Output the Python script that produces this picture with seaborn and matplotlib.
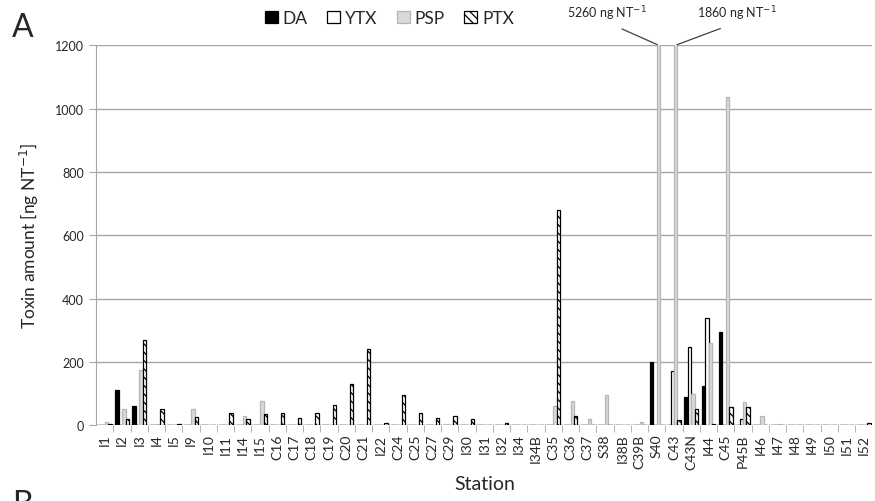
import pandas as pd
import seaborn as sns
import matplotlib.pyplot as plt
from matplotlib.ticker import FixedLocator

# --- data ---
stations = ['I1', 'I2', 'I3', 'I4', 'I5', 'I9', 'I10', 'I11', 'I14', 'I15',
            'C16', 'C17', 'C18', 'C19', 'C20', 'C21', 'I22', 'C24', 'C25', 'C27',
            'C29', 'I30', 'I31', 'I32', 'I34', 'I34B', 'C35', 'C36', 'C37', 'S38',
            'I38B', 'C39B', 'S40', 'C43', 'C43N', 'I44', 'C45', 'P45B', 'I46', 'I47',
            'I48', 'I49', 'I50', 'I51', 'I52']

da = [0, 110, 60, 0, 0, 0, 0, 0, 0, 0,
      0, 0, 0, 0, 0, 0, 0, 0, 0, 0,
      0, 0, 0, 0, 0, 0, 0, 0, 0, 0,
      0, 0, 200, 0, 90, 125, 295, 0, 0, 0,
      0, 0, 0, 0, 0]
ytx = [0, 0, 0, 0, 0, 0, 0, 0, 0, 0,
       0, 0, 0, 0, 0, 0, 0, 0, 0, 0,
       0, 0, 0, 0, 0, 0, 0, 0, 0, 0,
       0, 0, 0, 170, 248, 340, 0, 20, 0, 0,
       0, 0, 0, 0, 0]
psp = [10, 50, 175, 5, 0, 52, 0, 0, 28, 75,
       0, 0, 0, 0, 0, 0, 0, 0, 0, 0,
       0, 0, 0, 0, 0, 0, 60, 75, 18, 95,
       0, 10, 5260, 1860, 100, 260, 1035, 72, 30, 5,
       0, 0, 0, 0, 0]
ptx = [5, 20, 268, 52, 5, 25, 0, 37, 20, 35,
       37, 22, 37, 65, 130, 240, 8, 95, 40, 22,
       30, 18, 0, 8, 0, 0, 680, 28, 0, 0,
       0, 0, 0, 15, 50, 5, 58, 58, 0, 0,
       0, 0, 0, 0, 8]

toxins = ['DA', 'YTX', 'PSP', 'PTX']
df = pd.DataFrame({'Station': stations, 'DA': da, 'YTX': ytx, 'PSP': psp, 'PTX': ptx})
long = df.melt(id_vars='Station', var_name='Toxin', value_name='Amount')

# --- styling ---
sns.set_style("white")
plt.rcParams['font.family'] = ['Lato', 'DejaVu Sans']
plt.rcParams['hatch.linewidth'] = 0.9

fig = plt.figure(figsize=(8.75, 5.02), dpi=100)
ax = fig.add_axes([0.11, 0.151, 0.887, 0.757])

sns.barplot(data=long, x='Station', y='Amount', hue='Toxin', hue_order=toxins,
            palette=['black', 'white', '#d9d9d9', 'white'], width=0.8,
            saturation=1, ax=ax, legend=False)

face = ['black', 'white', '#d9d9d9', 'white']
edge = ['black', 'black', '#b5b5b5', 'black']
hatch = [None, None, None, '\\\\\\\\']
for i, cont in enumerate(ax.containers):
    for p in cont:
        p.set_facecolor(face[i])
        p.set_edgecolor(edge[i])
        p.set_linewidth(0.9)
        if hatch[i]:
            p.set_hatch(hatch[i])
    cont.set_label(toxins[i])

ax.set_ylim(0, 1200)
ax.set_xlim(-0.5, len(stations) - 0.5)
ax.set_yticks(range(0, 1201, 200))
ax.yaxis.grid(True, color='#a6a6a6', linewidth=1)
ax.set_axisbelow(True)
for s in ['top', 'right', 'bottom']:
    ax.spines[s].set_visible(False)
ax.spines['left'].set_color('#a6a6a6')
ax.axhline(0, color='#a6a6a6', linewidth=1, zorder=0.5)

ax.tick_params(axis='y', labelsize=9, length=5, color='#a6a6a6', pad=4, left=True)
ax.tick_params(axis='x', which='major', labelsize=10, length=0, rotation=90, pad=6)
ax.xaxis.set_minor_locator(FixedLocator([i + 0.5 for i in range(len(stations) - 1)]))
ax.tick_params(axis='x', which='minor', length=5, color='#a6a6a6', bottom=True)

ax.set_xlabel('Station', fontsize=14, labelpad=4)
ax.set_ylabel('Toxin amount [ng NT$^{-1}$]', fontsize=12.5, labelpad=10)

# legend across the top
leg = ax.legend(handles=ax.containers, labels=toxins, ncol=4, frameon=False,
                loc='center', bbox_to_anchor=(0.445, 0.962), bbox_transform=fig.transFigure,
                fontsize=12.5, handlelength=0.75, handleheight=0.75, handletextpad=0.3,
                columnspacing=1.1)

# labels for the two clipped bars
psp_bars = ax.containers[2]
for name, tx in [('S40', 607), ('C43', 737)]:
    k = stations.index(name)
    bar = psp_bars[k]
    val = psp[k]
    ax.annotate(f'{val} ng NT$^{{-1}}$', xy=(bar.get_x() + bar.get_width() / 2, 1200),
                xycoords='data', xytext=(tx, 502 - 14), textcoords='figure pixels',
                ha='center', va='center', fontsize=9,
                arrowprops=dict(arrowstyle='-', color='#404040', lw=0.9,
                                relpos=(0.5, 0), shrinkA=6, shrinkB=1))

fig.text(0.014, 0.945, 'A', fontsize=23, va='center')
fig.text(0.014, -0.005, 'B', fontsize=23, va='center')

plt.savefig('out.png', dpi=100)
